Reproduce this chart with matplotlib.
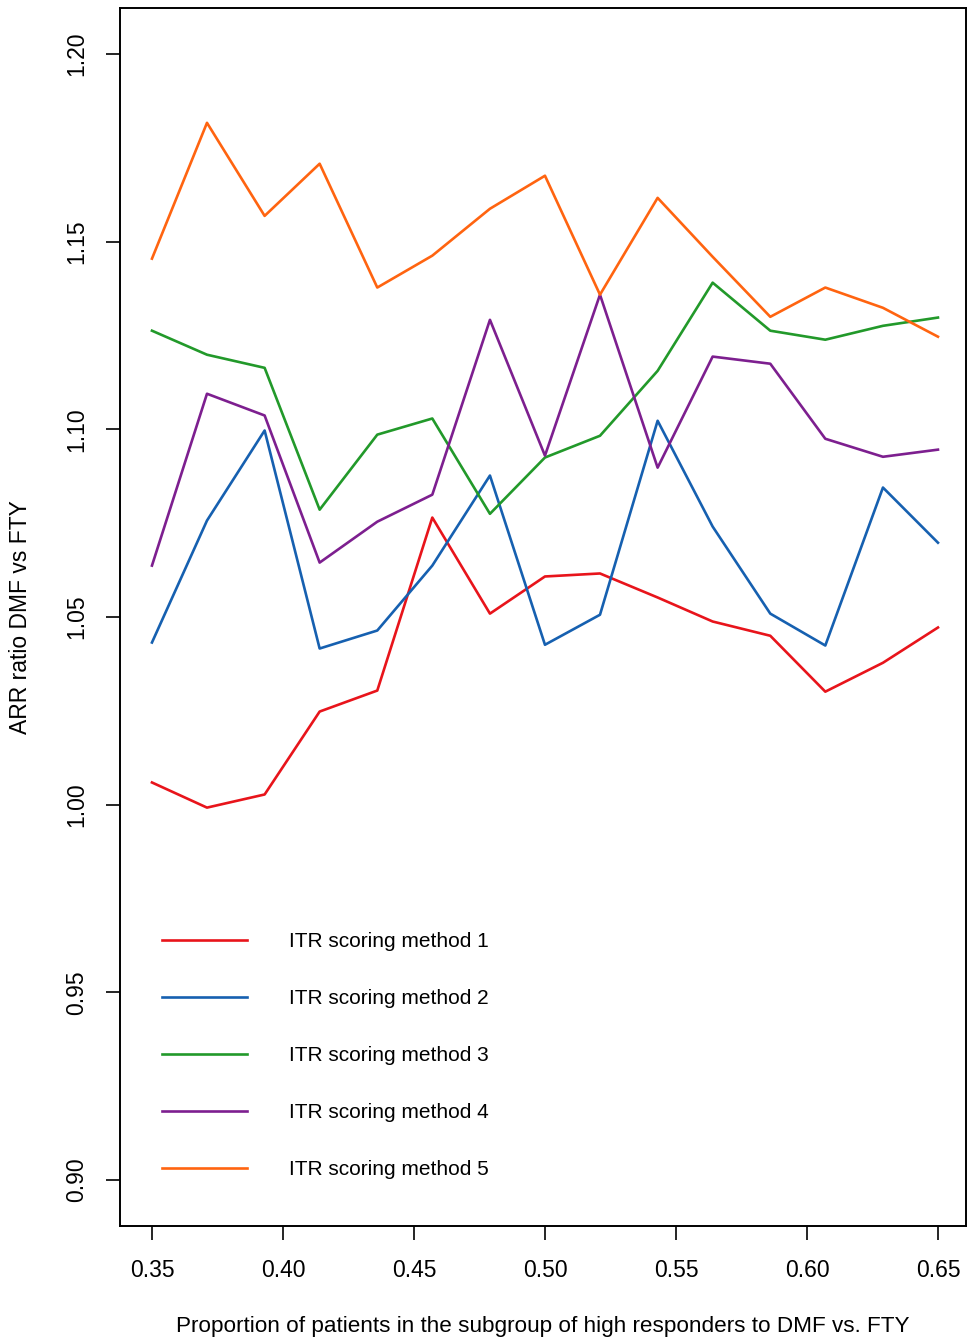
import matplotlib
matplotlib.use("Agg")
import matplotlib.pyplot as plt

plt.rcParams['font.family'] = ['Liberation Sans', 'DejaVu Sans']

# proportion of patients in the high-responder subgroup
proportion = [0.350, 0.371, 0.393, 0.414, 0.436, 0.457, 0.479, 0.500,
              0.521, 0.543, 0.564, 0.586, 0.607, 0.629, 0.650]

# ARR ratio DMF vs FTY per ITR scoring method
method1 = [1.0059, 0.9992, 1.0027, 1.0248, 1.0304, 1.0765, 1.0509, 1.0608,
           1.0616, 1.0552, 1.0488, 1.0450, 1.0301, 1.0378, 1.0472]
method2 = [1.0432, 1.0757, 1.0997, 1.0416, 1.0464, 1.0637, 1.0877, 1.0426,
           1.0506, 1.1023, 1.0741, 1.0509, 1.0424, 1.0845, 1.0698]
method3 = [1.1263, 1.1199, 1.1164, 1.0786, 1.0986, 1.1029, 1.0775, 1.0925,
           1.0983, 1.1156, 1.1391, 1.1263, 1.1239, 1.1276, 1.1298]
method4 = [1.0637, 1.1095, 1.1037, 1.0645, 1.0754, 1.0826, 1.1292, 1.0930,
           1.1359, 1.0898, 1.1194, 1.1175, 1.0975, 1.0927, 1.0946]
method5 = [1.1455, 1.1817, 1.1569, 1.1708, 1.1378, 1.1463, 1.1588, 1.1676,
           1.1359, 1.1617, 1.1460, 1.1300, 1.1378, 1.1324, 1.1247]

labels = ['ITR scoring method 1', 'ITR scoring method 2', 'ITR scoring method 3',
          'ITR scoring method 4', 'ITR scoring method 5']
colors = ['#e8141b', '#1660b0', '#22992a', '#7d1f8f', '#ff6410']

xticks = [0.35, 0.40, 0.45, 0.50, 0.55, 0.60, 0.65]
yticks = [0.90, 0.95, 1.00, 1.05, 1.10, 1.15, 1.20]

fig = plt.figure(figsize=(9.67, 13.4), dpi=100)
ax = fig.add_axes([120 / 967, 114 / 1340, 846 / 967, 1218 / 1340])

for ys, lab, col in zip([method1, method2, method3, method4, method5], labels, colors):
    ax.plot(proportion, ys, color=col, lw=1.9, label=lab)

ax.set_xlim(0.3378, 0.6607)
ax.set_ylim(0.8877, 1.2123)
ax.set_xticks(xticks)
ax.set_xticklabels([f'{v:.2f}' for v in xticks])
ax.set_yticks(yticks)
ax.set_yticklabels([f'{v:.2f}' for v in yticks], rotation=90, va='center')

ax.tick_params(axis='x', length=10, width=1.2, pad=14, labelsize=16.5, direction='out')
ax.tick_params(axis='y', length=10, width=1.2, pad=13, labelsize=16.5, direction='out')
for sp in ax.spines.values():
    sp.set_linewidth(1.4)

ax.set_xlabel('Proportion of patients in the subgroup of high responders to DMF vs. FTY',
              fontsize=16.2, labelpad=24)
ax.set_ylabel('ARR ratio DMF vs FTY', fontsize=16.5, labelpad=24)

ax.legend(loc='upper left', bbox_to_anchor=(0.0496, 0.2414), frameon=False,
          fontsize=15, borderpad=0, borderaxespad=0, handlelength=4.1,
          handletextpad=2.0, labelspacing=1.83)

fig.savefig('out.png', dpi=100)
